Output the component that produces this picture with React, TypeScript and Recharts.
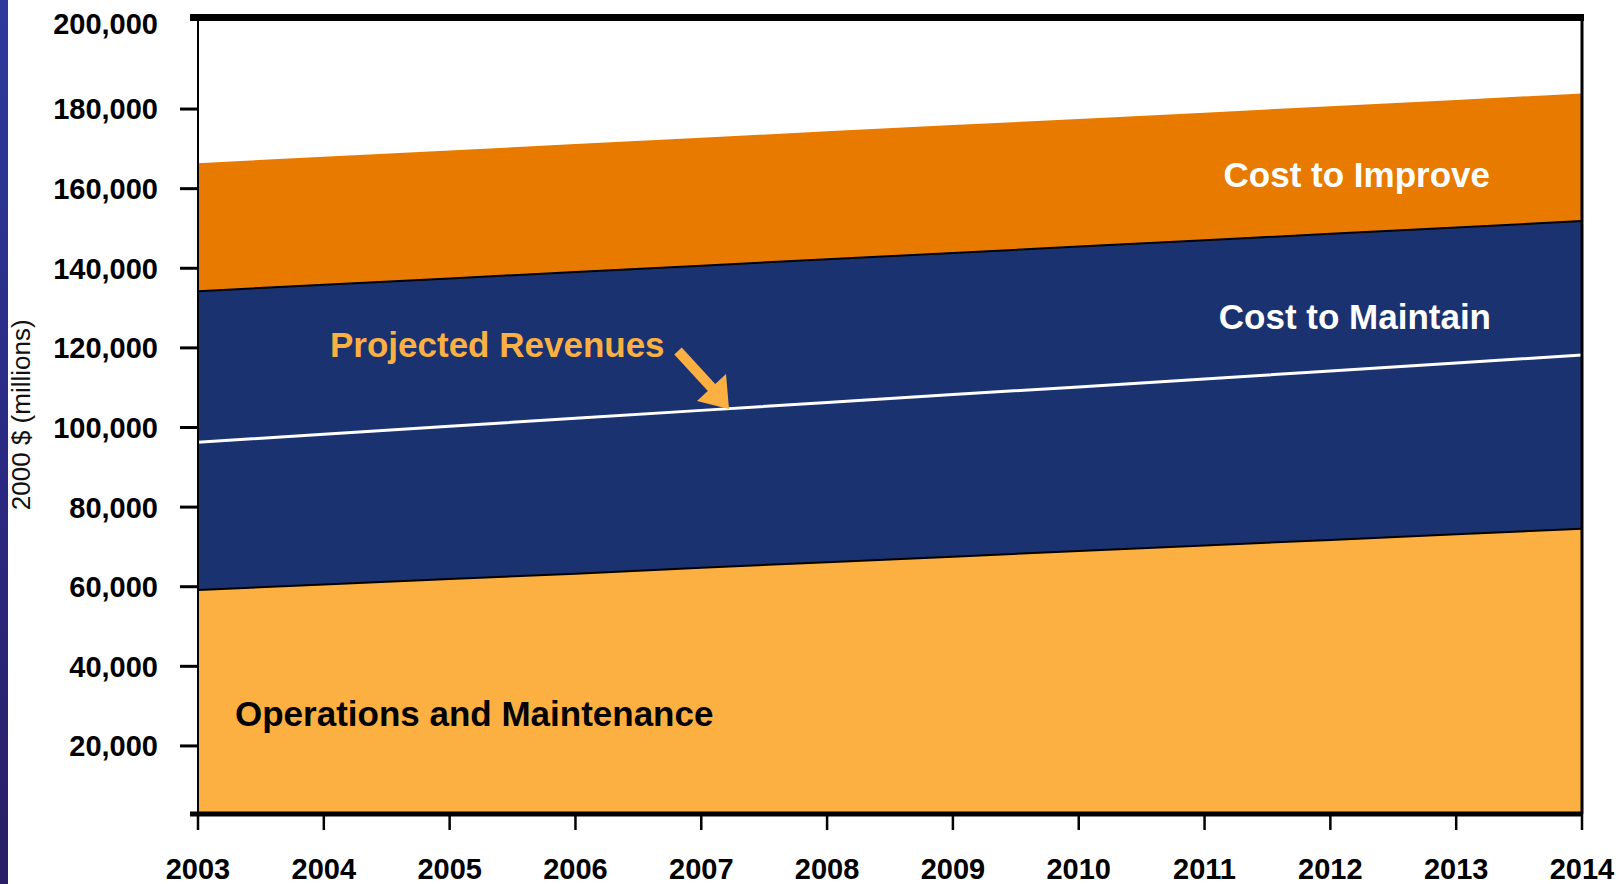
import React from 'react';
import { ComposedChart, Area, Line, XAxis, YAxis } from 'recharts';

const years = [2003, 2004, 2005, 2006, 2007, 2008, 2009, 2010, 2011, 2012, 2013, 2014];
const operationsMaintenance = [59400, 60800, 62200, 63500, 65000, 66400, 67800, 69200, 70600, 72000, 73400, 74800];
const costToMaintain = [75100, 75300, 75500, 75800, 75900, 76100, 76300, 76500, 76700, 76900, 77100, 77300];
const costToImprove = [31900, 31900, 31900, 31900, 31900, 31900, 31900, 31800, 31800, 31800, 31800, 31800];
const projectedRevenues = [96300, 98300, 100300, 102300, 104300, 106300, 108300, 110200, 112200, 114200, 116200, 118200];
const yTicks = [20000, 40000, 60000, 80000, 100000, 120000, 140000, 160000, 180000, 200000];

const data = years.map((year, i) => ({
  year,
  om: operationsMaintenance[i],
  maintain: costToMaintain[i],
  improve: costToImprove[i],
  revenue: projectedRevenues[i],
}));

const FONT = '"Liberation Sans", Arial, Helvetica, sans-serif';
const LIGHT_ORANGE = '#FDB042';
const NAVY = '#1A3370';
const ORANGE = '#E87A00';

const fmt = (v: number) => String(v).replace(/\B(?=(\d{3})+(?!\d))/g, ',');

const YTick = (props: any) => {
  const { x, y, payload } = props;
  const v = payload.value;
  const top = v === 200000;
  return (
    <g>
      {!top && <line x1={x + 22} x2={x + 40} y1={y} y2={y} stroke="#000" strokeWidth={3} />}
      <text x={x} y={y} dy={top ? 5 : 10.4} textAnchor="end" fontFamily={FONT} fontWeight="bold" fontSize={29} fill="#000">
        {fmt(v)}
      </text>
    </g>
  );
};

const XTick = (props: any) => {
  const { x, y, payload } = props;
  return (
    <text x={x} y={y} dy={49} textAnchor="middle" fontFamily={FONT} fontWeight="bold" fontSize={29} fill="#000">
      {payload.value}
    </text>
  );
};

const AxisTitle = (props: any) => {
  const vb = props.viewBox || { x: 0, y: 0, width: 0, height: 0 };
  const cx = vb.x + 21;
  const cy = vb.y + vb.height / 2 - 1;
  return (
    <text x={cx} y={cy} transform={`rotate(-90 ${cx} ${cy})`} textAnchor="middle" dominantBaseline="central" fontFamily={FONT} fontSize={26} fill="#111">
      2000 $ (millions)
    </text>
  );
};

export default function App() {
  return (
    <div style={{ position: 'absolute', left: 0, top: 0, width: 1619, height: 884, background: '#fff', overflow: 'hidden' }}>
      <div style={{ position: 'absolute', left: 0, top: 0, width: 8, height: 884, background: 'linear-gradient(#2d3a9c, #2a2a84 50%, #2a1f66)' }} />
      <div style={{ position: 'absolute', left: 0, top: 0 }}>
        <ComposedChart width={1619} height={884} data={data} margin={{ top: 17.5, right: 37, bottom: 0, left: 0 }}>
          <XAxis
            dataKey="year"
            type="number"
            domain={[2003, 2014]}
            ticks={years}
            height={70}
            tickSize={16}
            tickMargin={0}
            tickLine={{ stroke: '#000', strokeWidth: 2.5 }}
            axisLine={{ stroke: '#000', strokeWidth: 5 }}
            tick={<XTick />}
            interval={0}
          />
          <YAxis
            type="number"
            domain={[2900, 203000]}
            allowDataOverflow
            ticks={yTicks}
            width={198}
            tickSize={18}
            tickMargin={22}
            tickLine={false}
            axisLine={{ stroke: '#000', strokeWidth: 2 }}
            tick={<YTick />}
            interval={0}
            label={<AxisTitle />}
          />
          <Area type="linear" dataKey="om" stackId="a" fill={LIGHT_ORANGE} fillOpacity={1} stroke="#000" strokeWidth={4} isAnimationActive={false} />
          <Area type="linear" dataKey="maintain" stackId="a" fill={NAVY} fillOpacity={1} stroke="#000" strokeWidth={4} isAnimationActive={false} />
          <Area type="linear" dataKey="improve" stackId="a" fill={ORANGE} fillOpacity={1} stroke="none" isAnimationActive={false} />
          <Line type="linear" dataKey="revenue" stroke="#fff" strokeWidth={3} dot={false} activeDot={false} isAnimationActive={false} />
        </ComposedChart>
      </div>
      <svg width={1619} height={884} style={{ position: 'absolute', left: 0, top: 0, pointerEvents: 'none' }}>
        <line x1={190} x2={1584} y1={17.5} y2={17.5} stroke="#000" strokeWidth={7} />
        <line x1={1582} x2={1582} y1={14} y2={814} stroke="#000" strokeWidth={3} />
        <line x1={190} x2={198} y1={814} y2={814} stroke="#000" strokeWidth={5} />
        <text x={1490} y={187} textAnchor="end" fontFamily={FONT} fontWeight="bold" fontSize={35} fill="#fff">Cost to Improve</text>
        <text x={1491} y={329} textAnchor="end" fontFamily={FONT} fontWeight="bold" fontSize={35} fill="#fff">Cost to Maintain</text>
        <text x={330} y={357} fontFamily={FONT} fontWeight="bold" fontSize={35} fill={LIGHT_ORANGE}>Projected Revenues</text>
        <text x={235} y={726} fontFamily={FONT} fontWeight="bold" fontSize={35} fill="#000">Operations and Maintenance</text>
        <line x1={678} y1={351} x2={712} y2={388} stroke={LIGHT_ORANGE} strokeWidth={10} />
        <polygon points="697,401 726,374 729,409" fill={LIGHT_ORANGE} />
      </svg>
    </div>
  );
}
